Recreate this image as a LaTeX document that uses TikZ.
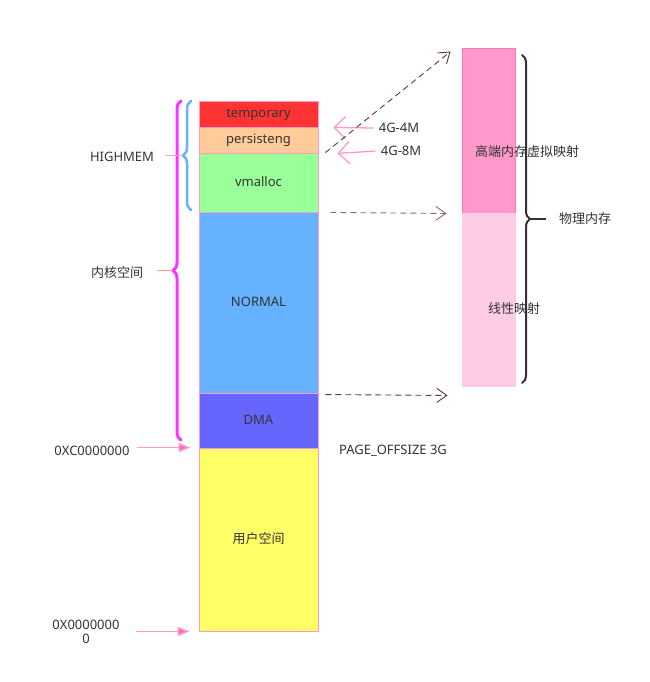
\documentclass[tikz,border=0pt]{standalone}
\usepackage{fontspec}
\setmainfont{Noto Sans}
\newfontfamily\cjk{Noto Sans CJK SC}
\usetikzlibrary{arrows.meta,decorations.pathreplacing}
\definecolor{segline}{HTML}{FF99CC}
\definecolor{txtgray}{HTML}{333333}
\definecolor{tempred}{HTML}{FF3333}
\definecolor{perspeach}{HTML}{FFCC99}
\definecolor{vmalgreen}{HTML}{99FF99}
\definecolor{normblue}{HTML}{66B2FF}
\definecolor{dmablue}{HTML}{6666FF}
\definecolor{useryellow}{HTML}{FFFF66}
\definecolor{hmapline}{HTML}{FF77BB}
\definecolor{hmappink}{HTML}{FF99CC}
\definecolor{lmappink}{HTML}{FFCCE6}
\definecolor{kernmag}{HTML}{FF33FF}
\definecolor{kerntick}{HTML}{FFAA77}
\definecolor{mapdark}{HTML}{5A3A3A}
\definecolor{maplight}{HTML}{8A7070}
\definecolor{addrtip}{HTML}{FF66B2}
\begin{document}
\begin{tikzpicture}[x=1pt,y=-1pt,font=\fontsize{13}{15}\selectfont,text=txtgray]
  \path[use as bounding box] (0,0) rectangle (649,682);
  \fill[white] (0,0) rectangle (649,682);

  \tikzset{seg/.style n args={3}{draw=#1,line width=.9pt,fill=#2,minimum width=119pt,
    minimum height=#3,inner sep=0pt,text height=9pt,text depth=2pt}, lbl/.style={inner sep=0pt,align=center},
    addr/.style={-{Triangle[length=12pt,width=9pt,fill=addrtip]},line width=1.6pt,draw=segline},
    back/.style={-{Straight Barb[length=11pt,width=22pt]},line width=1.3pt,draw=segline},
    map/.style={dash pattern=on 6pt off 4pt,line width=.9pt,-{Straight Barb[length=10pt,width=14pt]}},
    curly/.style n args={2}{decorate,decoration={brace,amplitude=#2pt},line width=#1,line cap=round}}

  \node[seg={segline}{tempred}{26pt}] (temp) at (258.5,114) {temporary};
  \node[seg={segline}{perspeach}{26pt}] (pers) at (258.5,140) {persisteng};
  \node[seg={segline}{vmalgreen}{59pt}] (vmal) at (258.5,182.5) {vmalloc};
  \node[seg={segline}{normblue}{181pt}] (norm) at (258.5,302.5) {NORMAL};
  \node[seg={segline}{dmablue}{55pt}] (dma) at (258.5,420.5) {DMA};
  \node[seg={segline}{useryellow}{183pt}] (user) at (258.5,539.5) {\cjk 用户空间};

  \node[seg={hmapline}{hmappink}{165pt},minimum width=53pt] (hmap) at (488.5,130.5) {};
  \node[seg={lmappink}{lmappink}{173pt},minimum width=53pt] (lmap) at (488.5,299.5) {};
  \node[lbl] (hmaptxt) at (527,152) {\cjk 高端内存虚拟映射};
  \node[lbl] (lmaptxt) at (514,309) {\cjk 线性映射};

  \draw[curly={3pt}{8},draw=kernmag] (181,440) -- (181,101) coordinate[pos=.5] (kerncusp);
  \draw[curly={2.5pt}{8},draw=normblue] (191,210) -- (191,101) coordinate[pos=.5] (highcusp);
  \draw[curly={2pt}{8},draw=txtgray] (522,55) -- (522,383) coordinate[pos=.5] (physcusp);
  \node[lbl] (highmem) at (122,157) {HIGHMEM};
  \node[lbl,font=\cjk\fontsize{13}{15}\selectfont] (kernel) at (117,273) {内核空间};
  \node[lbl,font=\cjk\fontsize{13}{15}\selectfont] (phys) at (585,219) {物理内存};
  \draw[kerntick,line width=1.5pt] ([xshift=-8pt]kerncusp) -- ++(-16,0);
  \draw[segline,line width=1.2pt] ([xshift=-8pt]highcusp) -- ++(-17,0);
  \draw[txtgray,line width=2pt] ([xshift=8pt]physcusp) -- ++(16,0);

  \node[lbl] (m4) at (399,128) {4G-4M};
  \node[lbl] (m8) at (401,151) {4G-8M};
  \draw[back] (m4.west) ++(-5,0) -- ([xshift=15pt]temp.south east);
  \draw[back] (m8.west) ++(-5,0) -- ([xshift=19pt]pers.south east);

  \draw[map,draw=mapdark] ([shift={(7,0)}]vmal.north east) -- ([shift={(-11,4)}]hmap.north west);
  \draw[map,draw=maplight] ([xshift=12pt]vmal.south east) -- ([xshift=-15pt]hmap.south west);
  \draw[map,draw=mapdark] ([shift={(7,2)}]dma.north east) -- ([shift={(-14,9)}]lmap.south west);

  \node[lbl] (addrc) at (92,451) {0XC0000000};
  \node[lbl,font=\fontsize{13}{14}\selectfont] (addrz) at (86,632) {0X0000000\\0};
  \node[lbl] (pageoff) at (393,451) {PAGE\_OFFSIZE 3G};
  \draw[addr] ([xshift=-62pt]user.north west) -- ([xshift=-8pt]user.north west);
  \draw[addr] ([xshift=-63pt]user.south west) -- ([xshift=-9pt]user.south west);
\end{tikzpicture}
\end{document}
